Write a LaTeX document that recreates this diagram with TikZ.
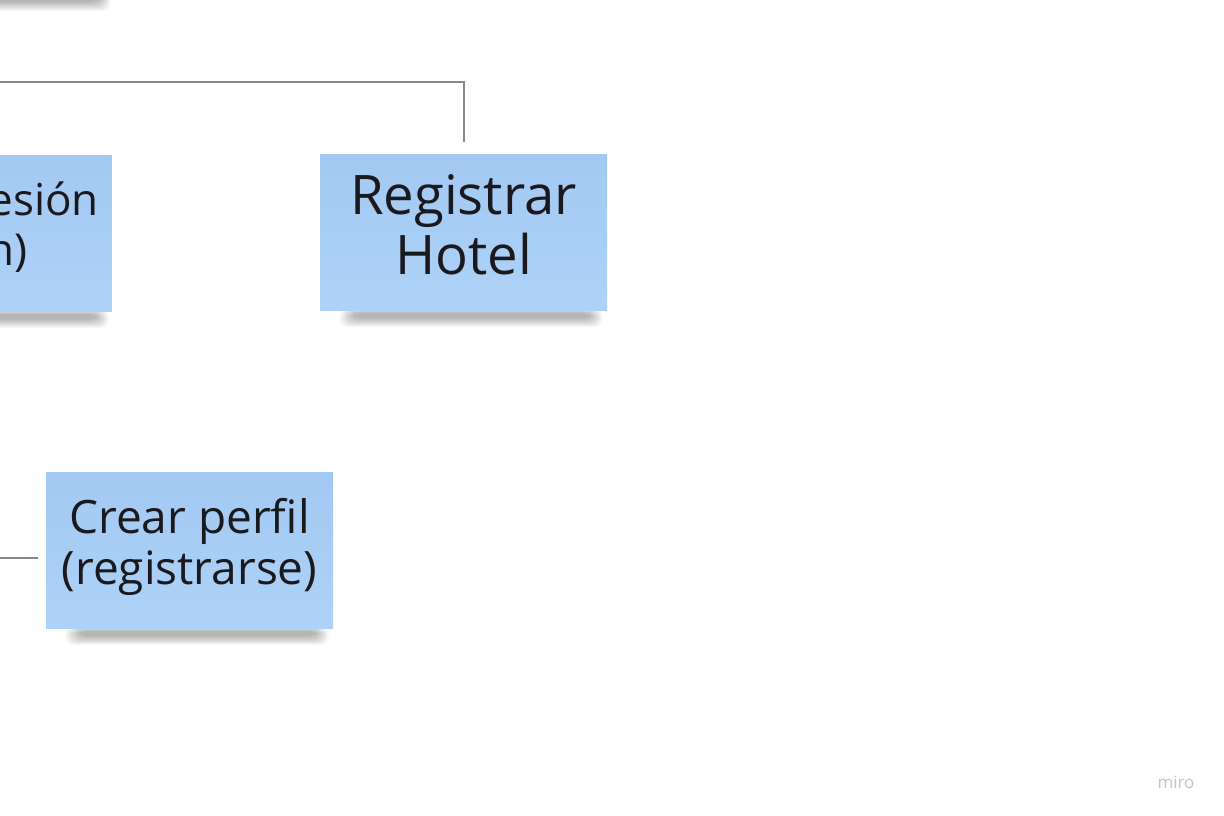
\documentclass[tikz,border=0pt]{standalone}
\usepackage{fontspec}
\setmainfont{Open Sans}
\definecolor{notetop}{RGB}{163,201,243}
\definecolor{notebot}{RGB}{174,210,247}
\definecolor{notetext}{RGB}{26,26,30}
\definecolor{linegray}{RGB}{136,136,136}
\definecolor{mirogray}{RGB}{196,196,202}
\tikzset{
  sticky/.style={top color=notetop, bottom color=notebot, draw=none,
    minimum width=287pt, minimum height=156pt, inner sep=0pt},
  notelabel/.style={align=center, text=notetext, inner sep=0pt},
  bigtext/.style={font=\fontsize{54.5}{60}\selectfont},
  midtext/.style={font=\fontsize{46}{51}\selectfont},
  logintext/.style={font=\fontsize{44}{50}\selectfont},
  connector/.style={draw=linegray, line width=2pt},
}
\newcommand{\noteshadow}[4]{% left x, right x, bottom y, depth
  \foreach \k in {1,...,10}{
    \fill[black, opacity=0.03, rounded corners=8pt]
      (#1+\k*1.6, #3-2+\k*0.5) rectangle (#2-\k*1.4, #3+#4-\k*1.0);
  }
}
\begin{document}
\begin{tikzpicture}[x=1pt,y=-1pt]
\useasboundingbox (0,0) rectangle (1224,816);
\clip (0,0) rectangle (1224,816);
\fill[white] (0,0) rectangle (1224,816);
% shadows
\noteshadow{-150}{112}{-6}{18}
\noteshadow{-150}{110}{311}{18}
\noteshadow{338}{604}{310}{18}
\noteshadow{64}{330}{628}{18}
% notes
\node[sticky] (login) at (-32,233.5) {};
\node[notelabel, logintext] (logintext) at ([xshift=-3pt,yshift=5pt]login.center) {Iniciar sesión\\(login)};
\node[sticky] (reg) at (463.5,232) {};
\node[notelabel, bigtext] (regtext) at ([yshift=7pt]reg.center) {Registrar\\Hotel};
\node[sticky] (crear) at (189.5,550) {};
\node[notelabel, midtext] (creartext) at ([yshift=3pt]crear.center) {Crear perfil\\(registrarse)};
% connectors
\coordinate (l1) at (0,82);
\coordinate (l2) at (0,558);
\draw[connector] (l1) -| ([yshift=12pt]reg.north);
\draw[connector] (l2) -- ([xshift=-8pt]crear.west |- l2);
% logo
\node[text=mirogray, font=\fontsize{17}{17}\selectfont, inner sep=0pt] (logo) at (1176,782) {miro};
\end{tikzpicture}
\end{document}
